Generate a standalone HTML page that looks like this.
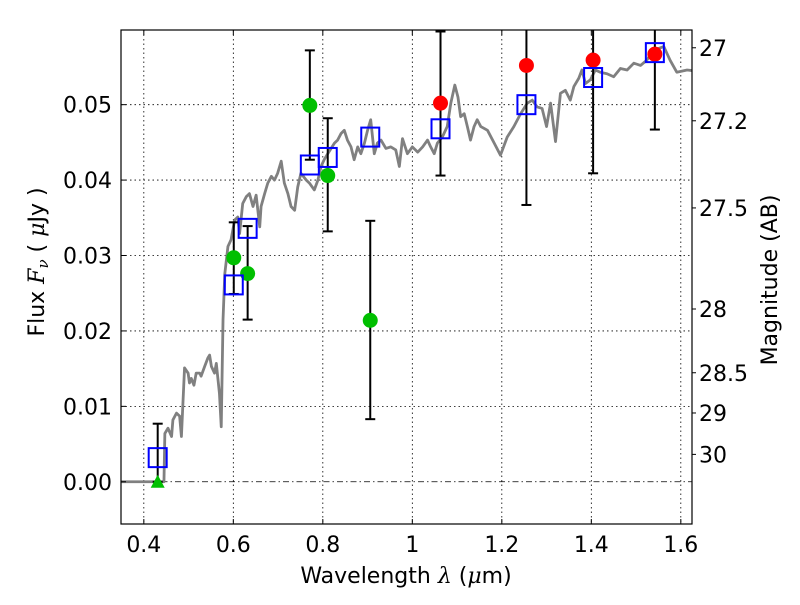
<!DOCTYPE html>
<html><head><meta charset="utf-8"><style>
body{margin:0;background:#fff;}
svg text{font-family:"DejaVu Sans","Liberation Sans",sans-serif;}
</style></head><body>
<svg id="chart" width="800" height="600" viewBox="0 0 800 600" xmlns="http://www.w3.org/2000/svg"></svg>
<script>
const xTicks=[0.4,0.6,0.8,1.0,1.2,1.4,1.6];
const xTickLabels=["0.4","0.6","0.8","1","1.2","1.4","1.6"];
const yTicks=[0,0.01,0.02,0.03,0.04,0.05];
const yTickLabels=["0.00","0.01","0.02","0.03","0.04","0.05"];
const magTicks=[27,27.2,27.5,28,28.5,29,30];
const magTickLabels=["27","27.2","27.5","28","28.5","29","30"];
const specWave=[0.35,0.445,0.447,0.454,0.462,0.465,0.473,0.480,0.484,0.491,0.499,0.502,0.506,0.512,0.517,0.525,0.528,0.536,0.543,0.547,0.551,0.558,0.562,0.569,0.573,0.577,0.581,0.588,0.595,0.603,0.610,0.614,0.621,0.629,0.636,0.644,0.651,0.659,0.662,0.670,0.677,0.685,0.692,0.699,0.707,0.714,0.722,0.729,0.737,0.744,0.751,0.763,0.770,0.781,0.789,0.796,0.803,0.811,0.826,0.833,0.841,0.848,0.855,0.863,0.870,0.878,0.885,0.893,0.900,0.907,0.915,0.922,0.930,0.941,0.952,0.963,0.971,0.978,0.989,1.000,1.012,1.023,1.034,1.041,1.049,1.056,1.067,1.078,1.086,1.095,1.102,1.108,1.116,1.123,1.130,1.138,1.145,1.153,1.168,1.183,1.197,1.212,1.227,1.242,1.257,1.268,1.279,1.290,1.300,1.309,1.320,1.331,1.342,1.353,1.361,1.372,1.379,1.387,1.398,1.409,1.420,1.435,1.450,1.465,1.480,1.495,1.510,1.524,1.539,1.562,1.576,1.591,1.614,1.628];
const specFlux=[0,0,0.0064,0.0071,0.0060,0.0082,0.0091,0.0087,0.0060,0.0151,0.0144,0.0131,0.0137,0.0128,0.0144,0.0144,0.0140,0.0153,0.0164,0.0168,0.0153,0.0144,0.0157,0.0117,0.0073,0.0215,0.0276,0.0312,0.0321,0.0347,0.0351,0.0329,0.0369,0.0378,0.0382,0.0365,0.0380,0.0338,0.0365,0.0382,0.0396,0.0405,0.0400,0.0409,0.0425,0.0396,0.0382,0.0365,0.0360,0.0391,0.0409,0.0400,0.0396,0.0387,0.0400,0.0418,0.0427,0.0435,0.0449,0.0453,0.0462,0.0466,0.0453,0.0444,0.0427,0.0444,0.0435,0.0449,0.0466,0.0480,0.0435,0.0449,0.0453,0.0442,0.0444,0.0440,0.0418,0.0455,0.0435,0.0444,0.0437,0.0444,0.0453,0.0444,0.0435,0.0449,0.0457,0.0471,0.0502,0.0526,0.0510,0.0484,0.0488,0.0471,0.0453,0.0471,0.0480,0.0471,0.0466,0.0449,0.0433,0.0457,0.0471,0.0488,0.0502,0.0506,0.0497,0.0495,0.0471,0.0502,0.0451,0.0515,0.0519,0.0506,0.0524,0.0535,0.0546,0.0528,0.0533,0.0546,0.0543,0.0541,0.0537,0.0548,0.0546,0.0555,0.0552,0.0559,0.0572,0.0577,0.0559,0.0543,0.0546,0.0545];
const greenWave=[0.601,0.632,0.771,0.811,0.906];
const greenFlux=[0.0297,0.0276,0.0499,0.0406,0.0214];
const greenLo=[0.0249,0.0215,0.0427,0.0332,0.0083];
const greenHi=[0.0344,0.0339,0.0572,0.0482,0.0346];
const redWave=[1.063,1.255,1.404,1.542];
const redFlux=[0.0502,0.0552,0.0559,0.0567];
const redLo=[0.0406,0.0367,0.0409,0.0467];
const redHi=[0.0597,0.065,0.065,0.065];
const limitWave=[0.431];
const limitFlux=[0];
const limitHi=[0.0077];
const modelWave=[0.431,0.601,0.632,0.771,0.811,0.906,1.063,1.255,1.404,1.542];
const modelFlux=[0.0032,0.0261,0.0336,0.0420,0.0430,0.0457,0.0468,0.0500,0.0536,0.0569];

const L=121,R=692,T=30,B=524;
const X0=0.349,X1=1.625,Y0=-0.0056,Y1=0.0599;
const sx=v=>L+(v-X0)/(X1-X0)*(R-L);
const sy=v=>B-(v-Y0)/(Y1-Y0)*(B-T);
const magToFlux=m=>Math.pow(10,(23.9-m)/2.5);
const svg=document.getElementById('chart');
const NS='http://www.w3.org/2000/svg';
function mk(tag,attrs,parent){const e=document.createElementNS(NS,tag);for(const k in attrs)e.setAttribute(k,attrs[k]);(parent||svg).appendChild(e);return e;}

const defs=mk('defs',{});
const cp=mk('clipPath',{id:'clip'},defs);
mk('rect',{x:L,y:T,width:R-L,height:B-T},cp);

const grid=mk('g',{});


xTicks.forEach(v=>{mk('line',{x1:sx(v),x2:sx(v),y1:T,y2:B,stroke:'#000','stroke-width':0.8,'stroke-dasharray':'1.5,3'},grid);});
yTicks.forEach(v=>{if(v!==0)mk('line',{x1:L,x2:R,y1:sy(v),y2:sy(v),stroke:'#000','stroke-width':0.8,'stroke-dasharray':'1.5,3'},grid);});
const zl=mk('line',{x1:L,x2:R,y1:sy(0),y2:sy(0),stroke:'#000','stroke-width':0.8,'stroke-dasharray':'6,3,1.5,3'});



const plot=mk('g',{'clip-path':'url(#clip)'});
const spec=mk('polyline',{points:specWave.map((w,i)=>sx(w)+','+sy(specFlux[i])).join(' '),fill:'none',stroke:'#808080','stroke-width':2.8,'stroke-linejoin':'round'},plot);



function errbar(w,lo,hi){
  const g=mk('g',{},plot);
  
  
  mk('line',{x1:sx(w),x2:sx(w),y1:sy(lo),y2:sy(hi),stroke:'#000','stroke-width':2},g);
  mk('line',{x1:sx(w)-5,x2:sx(w)+5,y1:sy(lo),y2:sy(lo),stroke:'#000','stroke-width':2},g);
  mk('line',{x1:sx(w)-5,x2:sx(w)+5,y1:sy(hi),y2:sy(hi),stroke:'#000','stroke-width':2},g);
}
greenWave.forEach((w,i)=>errbar(w,greenLo[i],greenHi[i]));
redWave.forEach((w,i)=>errbar(w,redLo[i],redHi[i]));
limitWave.forEach((w,i)=>errbar(w,limitFlux[i],limitHi[i]));

greenWave.forEach((w,i)=>{const c=mk('circle',{cx:sx(w),cy:sy(greenFlux[i]),r:7.5,fill:'#00bf00'},plot);

});
redWave.forEach((w,i)=>{const c=mk('circle',{cx:sx(w),cy:sy(redFlux[i]),r:7.5,fill:'#ff0000'},plot);

});
limitWave.forEach((w,i)=>{const x=sx(w),y=sy(limitFlux[i]);const p=mk('polygon',{points:`${x},${y-7} ${x-7},${y+6} ${x+7},${y+6}`,fill:'#00bf00'},plot);

});
modelWave.forEach((w,i)=>{const r=mk('rect',{x:sx(w)-9,y:sy(modelFlux[i])-9.5,width:18,height:19,fill:'none',stroke:'#0000ff','stroke-width':2},plot);

});

const frame=mk('rect',{x:L,y:T,width:R-L,height:B-T,fill:'none',stroke:'#000','stroke-width':1.2});



xTicks.forEach((v,i)=>{
  mk('line',{x1:sx(v),x2:sx(v),y1:B,y2:B-5,stroke:'#000'});mk('line',{x1:sx(v),x2:sx(v),y1:T,y2:T+5,stroke:'#000'});
  const t=mk('text',{x:sx(v),y:B+28,'text-anchor':'middle','font-size':22});t.textContent=xTickLabels[i];
  
  
});
yTicks.forEach((v,i)=>{
  mk('line',{x1:L,x2:L+5,y1:sy(v),y2:sy(v),stroke:'#000'});
  const t=mk('text',{x:L-9,y:sy(v)+8,'text-anchor':'end','font-size':22});t.textContent=yTickLabels[i];
  
  
});
magTicks.forEach((m,i)=>{
  const y=sy(magToFlux(m));
  mk('line',{x1:R,x2:R+4,y1:y,y2:y,stroke:'#000'});
  const t=mk('text',{x:R+7,y:y+8,'font-size':22});t.textContent=magTickLabels[i];
  
  
});
const xl=mk('text',{x:406,y:583,'text-anchor':'middle','font-size':22});
xl.innerHTML='Wavelength  <tspan font-style="italic" font-family="DejaVu Serif, serif">λ</tspan> (<tspan font-style="italic" font-family="DejaVu Serif, serif">μ</tspan>m)';


const yl=mk('text',{x:0,y:0,'text-anchor':'middle','font-size':22,transform:'translate(44,262) rotate(-90)'});
yl.innerHTML='Flux  <tspan font-style="italic" font-family="DejaVu Serif, serif">F</tspan><tspan font-style="italic" font-size="15" dy="4" font-family="DejaVu Serif, serif">ν</tspan><tspan dy="-4">  ( </tspan><tspan font-style="italic" font-family="DejaVu Serif, serif">μ</tspan>Jy )';


const rl=mk('text',{x:0,y:0,'text-anchor':'middle','font-size':22,transform:'translate(777,280) rotate(-90)'});
rl.textContent='Magnitude (AB)';


</script>
</body></html>
